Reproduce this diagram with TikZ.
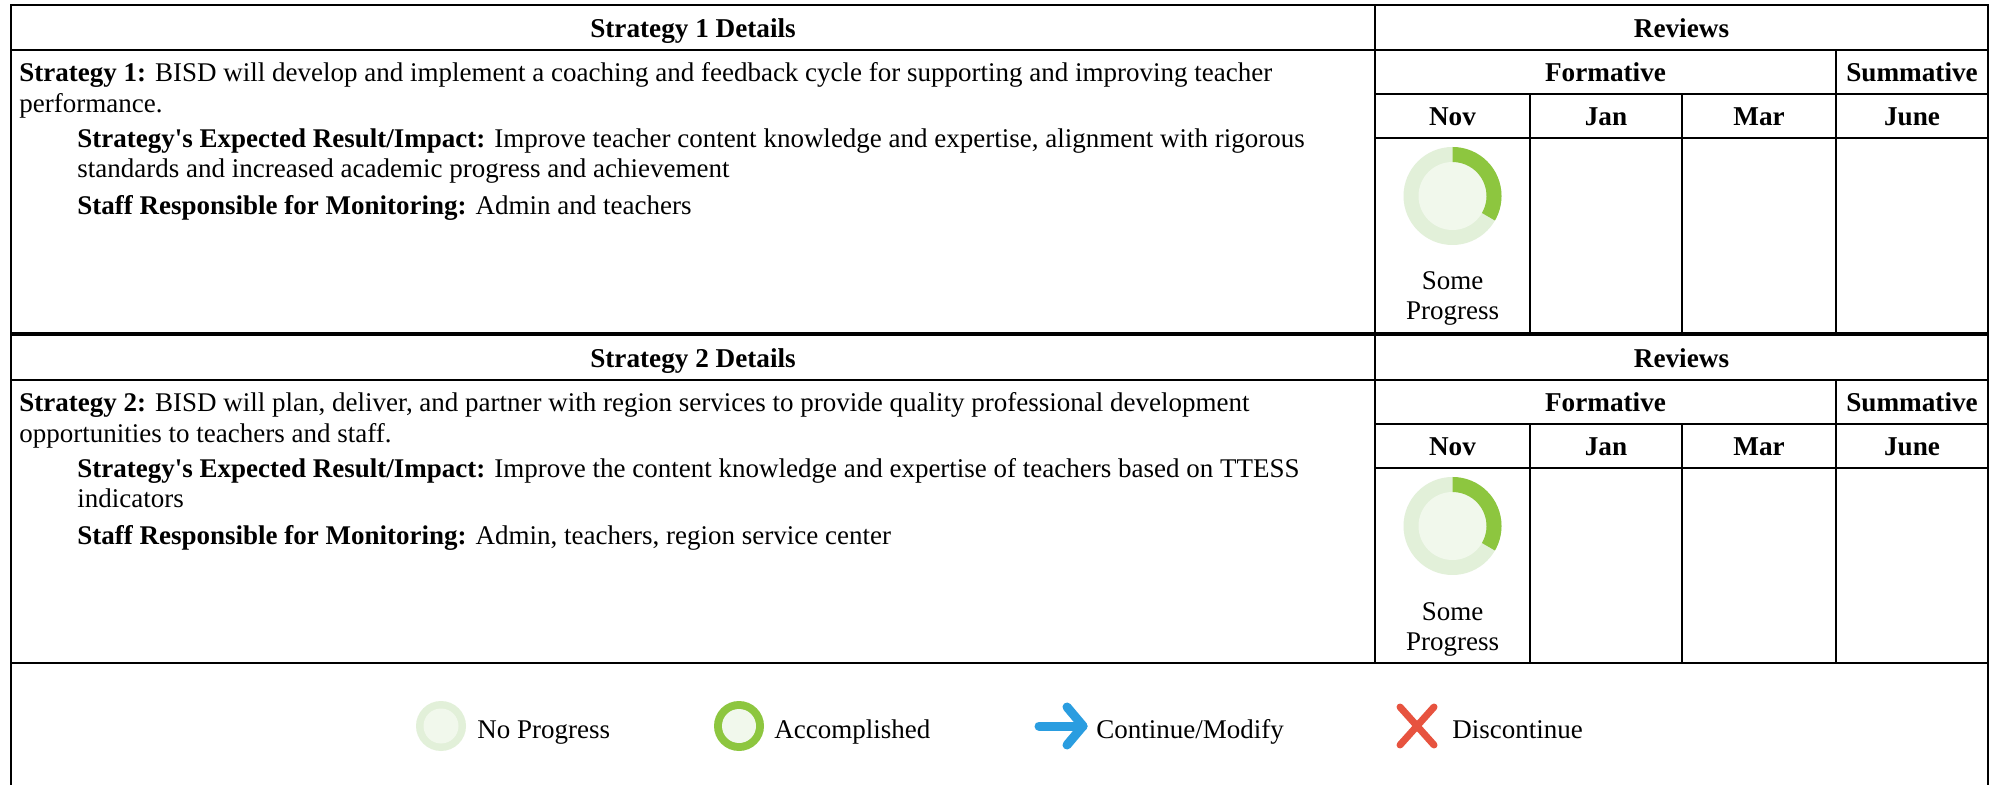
\documentclass[tikz,border=0pt]{standalone}
\usepackage{fontspec}
\setmainfont{Liberation Serif}
\definecolor{ringlight}{RGB}{226,240,217}
\definecolor{innerlight}{RGB}{241,248,236}
\definecolor{accgreen}{RGB}{141,198,63}
\definecolor{contblue}{RGB}{42,157,224}
\definecolor{discred}{RGB}{231,83,63}
\newcommand{\sq}{\textquotesingle}
\begin{document}
\begin{tikzpicture}[x=0.5pt,y=-0.5pt,
  txt/.style={inner sep=0pt,font=\fontsize{13.5pt}{15pt}\selectfont},
  lft/.style={txt,anchor=base west},
  ctr/.style={txt,anchor=base},
  hdr/.style={txt,anchor=base,font=\fontsize{13.6pt}{15pt}\selectfont\bfseries},
  grid/.style={line width=1pt,black},
]
\useasboundingbox (0,0) rectangle (1997,785);
\fill[white] (0,0) rectangle (1997,785);

% ---------- generic table drawing ----------
\foreach \T in {5,335}{
  \draw[grid] (11,\T) rectangle (1988,\T+328);
  \draw[grid] (1375,\T) -- (1375,\T+328);
  \draw[grid] (11,\T+45) -- (1988,\T+45);
  \draw[grid] (1375,\T+89) -- (1988,\T+89);
  \draw[grid] (1375,\T+133) -- (1988,\T+133);
  \draw[grid] (1836,\T+45) -- (1836,\T+328);
  \draw[grid] (1530,\T+89) -- (1530,\T+328);
  \draw[grid] (1682,\T+89) -- (1682,\T+328);
}
% legend frame sides
\draw[grid] (11,663) -- (11,786);
\draw[grid] (1988,663) -- (1988,786);

% ---------- table 1 ----------
\node[hdr] (h1) at (693,37.5) {Strategy 1 Details};
\node[hdr] (r1) at (1681.5,37.5) {Reviews};
\node[hdr] (f1) at (1605.5,82) {Formative};
\node[hdr] (s1) at (1912,82) {Summative};
\node[hdr] (nov1) at (1452.5,126) {Nov};
\node[hdr] (jan1) at (1606,126) {Jan};
\node[hdr] (mar1) at (1759,126) {Mar};
\node[hdr] (jun1) at (1912,126) {June};
\node[lft] (a1) at (19,82) {\textbf{Strategy 1:} BISD will develop and implement a coaching and feedback cycle for supporting and improving teacher};
\node[lft] (b1) at (19,112.5) {performance.};
\node[lft] (c1) at (77,148) {\textbf{Strategy\sq s Expected Result/Impact:} Improve teacher content knowledge and expertise, alignment with rigorous};
\node[lft] (d1) at (77,178) {standards and increased academic progress and achievement};
\node[lft] (e1) at (77,215) {\textbf{Staff Responsible for Monitoring:} Admin and teachers};
\coordinate (dn1) at (1452.5,196);
\fill[ringlight] (dn1) circle (24.5pt);
\fill[innerlight] (dn1) circle (17pt);
\fill[accgreen] ([shift={(90:24.5pt)}]dn1) arc[start angle=90,end angle=-30,radius=24.5pt]
   -- ([shift={(-30:17pt)}]dn1) arc[start angle=-30,end angle=90,radius=17pt] -- cycle;
\node[ctr] (sp1a) at (1452.5,290) {Some};
\node[ctr] (sp1b) at (1452.5,320) {Progress};

% ---------- table 2 ----------
\node[hdr] (h2) at (693,367.5) {Strategy 2 Details};
\node[hdr] (r2) at (1681.5,367.5) {Reviews};
\node[hdr] (f2) at (1605.5,412) {Formative};
\node[hdr] (s2) at (1912,412) {Summative};
\node[hdr] (nov2) at (1452.5,456) {Nov};
\node[hdr] (jan2) at (1606,456) {Jan};
\node[hdr] (mar2) at (1759,456) {Mar};
\node[hdr] (jun2) at (1912,456) {June};
\node[lft] (a2) at (19,412) {\textbf{Strategy 2:} BISD will plan, deliver, and partner with region services to provide quality professional development};
\node[lft] (b2) at (19,442.5) {opportunities to teachers and staff.};
\node[lft] (c2) at (77,478) {\textbf{Strategy\sq s Expected Result/Impact:} Improve the content knowledge and expertise of teachers based on TTESS};
\node[lft] (d2) at (77,508) {indicators};
\node[lft] (e2) at (77,545) {\textbf{Staff Responsible for Monitoring:} Admin, teachers, region service center};
\coordinate (dn2) at (1452.5,526);
\fill[ringlight] (dn2) circle (24.5pt);
\fill[innerlight] (dn2) circle (17pt);
\fill[accgreen] ([shift={(90:24.5pt)}]dn2) arc[start angle=90,end angle=-30,radius=24.5pt]
   -- ([shift={(-30:17pt)}]dn2) arc[start angle=-30,end angle=90,radius=17pt] -- cycle;
\node[ctr] (sp2a) at (1452.5,620) {Some};
\node[ctr] (sp2b) at (1452.5,650) {Progress};

% ---------- legend ----------
\coordinate (np) at (441,726);
\fill[ringlight] (np) circle (12.5pt);
\fill[innerlight] (np) circle (8.75pt);
\node[lft] (npt) at (477,738) {No Progress};

\coordinate (ac) at (739,726);
\fill[accgreen] (ac) circle (12.5pt);
\fill[innerlight] (ac) circle (8.5pt);
\node[lft] (act) at (774,738) {Accomplished};

\coordinate (cmA) at (1039,726);
\coordinate (cmB) at (1083,726);
\coordinate (cmU) at (1067,707);
\coordinate (cmD) at (1067,745);
\draw[contblue,line width=4.5pt,line cap=round,line join=round] (cmA) -- (cmB);
\draw[contblue,line width=4.5pt,line cap=round,line join=round] (cmU) -- (cmB) -- (cmD);
\node[lft] (cmt) at (1096,738) {Continue/Modify};

\coordinate (xa) at (1400,707);
\coordinate (xb) at (1434,745);
\coordinate (xc) at (1400,745);
\coordinate (xd) at (1434,707);
\draw[discred,line width=3.5pt,line cap=round] (xa) -- (xb);
\draw[discred,line width=3.5pt,line cap=round] (xc) -- (xd);
\node[lft] (dct) at (1452,738) {Discontinue};
\end{tikzpicture}
\end{document}
